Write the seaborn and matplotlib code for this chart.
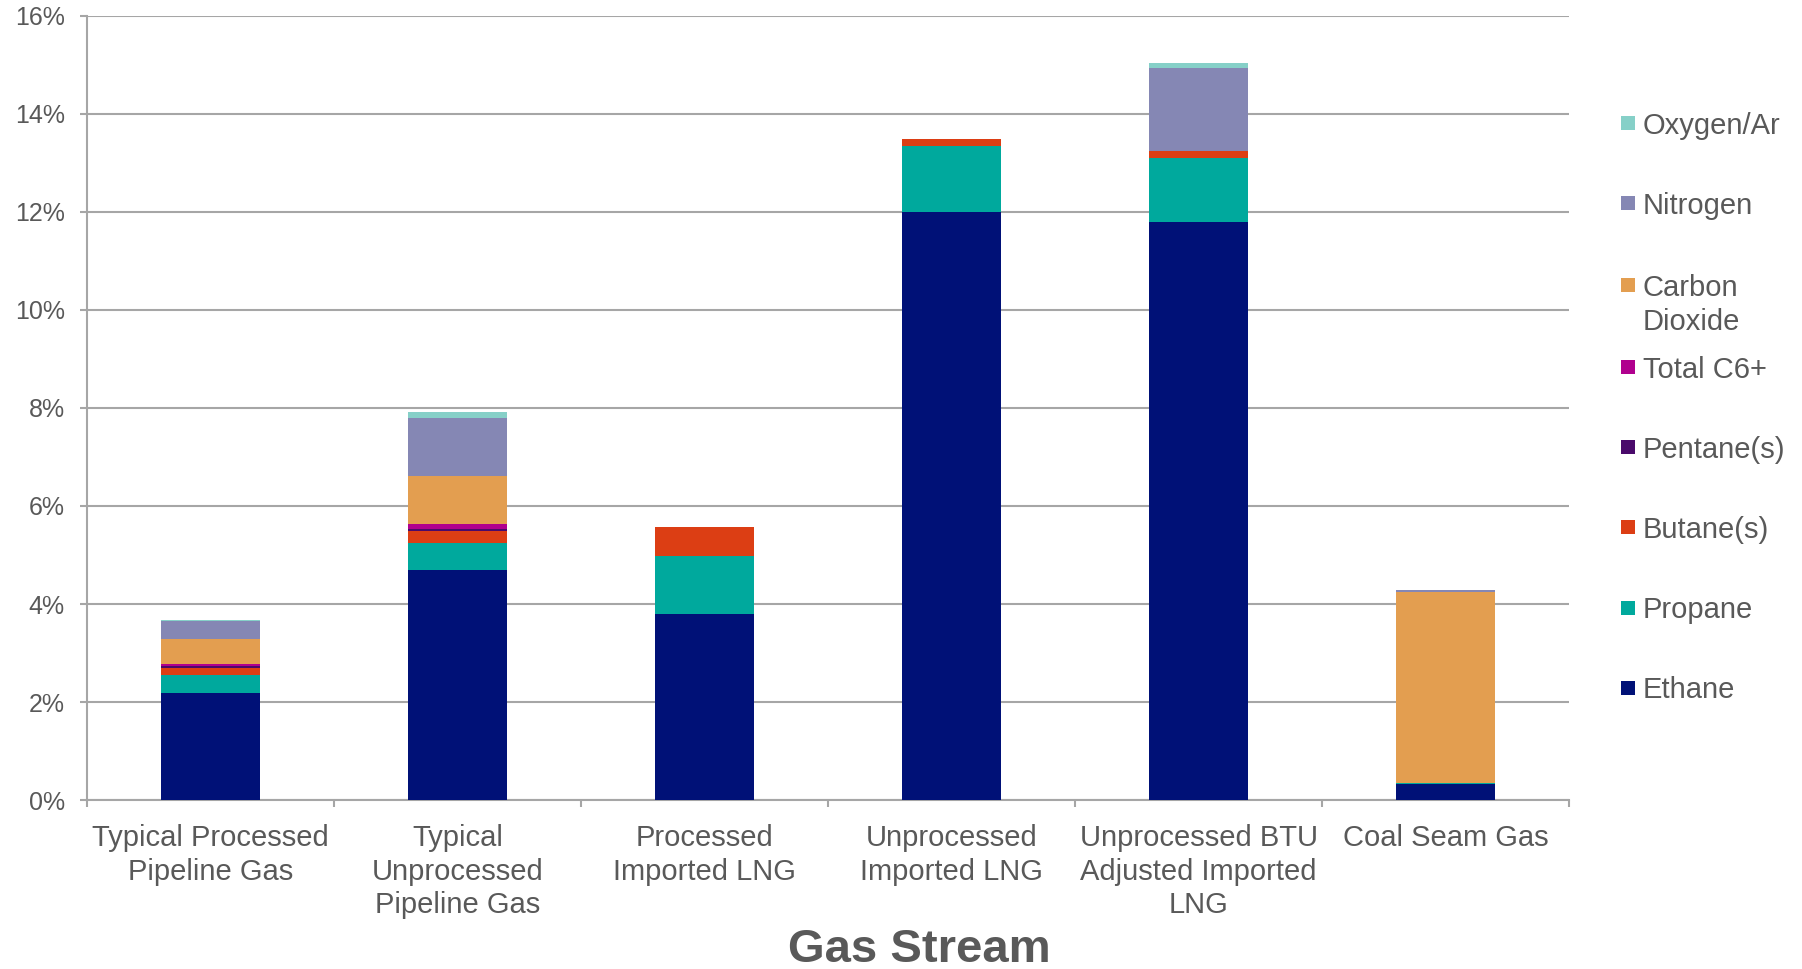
import numpy as np
import pandas as pd
import matplotlib
matplotlib.use("Agg")
import matplotlib.pyplot as plt
from matplotlib.patches import Rectangle
from matplotlib.ticker import FuncFormatter
import seaborn as sns

# Gas streams (x categories)
streams = [
    "Typical Processed\nPipeline Gas",
    "Typical\nUnprocessed\nPipeline Gas",
    "Processed\nImported LNG",
    "Unprocessed\nImported LNG",
    "Unprocessed BTU\nAdjusted Imported\nLNG",
    "Coal Seam Gas",
]

# Component shares (% by volume), bottom of stack first
ethane = [2.19, 4.69, 3.80, 12.00, 11.80, 0.32]
propane = [0.36, 0.55, 1.17, 1.34, 1.31, 0.02]
butanes = [0.14, 0.24, 0.60, 0.14, 0.13, 0.01]
pentanes = [0.04, 0.06, 0.00, 0.00, 0.00, 0.00]
c6_plus = [0.04, 0.09, 0.00, 0.00, 0.00, 0.00]
carbon_dioxide = [0.51, 0.99, 0.00, 0.00, 0.00, 3.90]
nitrogen = [0.37, 1.18, 0.00, 0.00, 1.70, 0.03]
oxygen_ar = [0.02, 0.11, 0.00, 0.00, 0.11, 0.00]

components = ["Ethane", "Propane", "Butane(s)", "Pentane(s)", "Total C6+",
              "Carbon\nDioxide", "Nitrogen", "Oxygen/Ar"]
series = [ethane, propane, butanes, pentanes, c6_plus,
          carbon_dioxide, nitrogen, oxygen_ar]
colors = ["#001177", "#00A99D", "#DC3E14", "#4A0A6B", "#B0008E",
          "#E39E50", "#8587B4", "#86D0C8"]

yticks = [0, 2, 4, 6, 8, 10, 12, 14, 16]

sns.set_theme(style="white")
plt.rcParams["font.family"] = ["Liberation Sans", "DejaVu Sans"]
text_color = "#595959"
grid_color = "#A6A6A6"

fig = plt.figure(figsize=(18.02, 9.69), dpi=100)
ax = fig.add_axes([0.0483, 0.1744, 0.8224, 0.8091])

# Stacked bars: draw cumulative totals from the top component down
cum = np.cumsum(np.array(series), axis=0)
for i in range(len(series) - 1, -1, -1):
    df = pd.DataFrame({"stream": streams, "value": cum[i]})
    sns.barplot(data=df, x="stream", y="value", order=streams, color=colors[i],
                saturation=1, width=0.4, ax=ax, zorder=3, linewidth=0)

ax.set_xlim(-0.5, len(streams) - 0.5)
ax.set_ylim(yticks[0], yticks[-1])
ax.set_yticks(yticks)
ax.yaxis.set_major_formatter(FuncFormatter(lambda v, p: f"{v:.0f}%"))
ax.set_xlabel("")
ax.set_ylabel("")

ax.grid(axis="y", color=grid_color, linewidth=1.5, zorder=0)
ax.grid(axis="x", visible=False)
ax.set_axisbelow(True)
for side in ["top", "right"]:
    ax.spines[side].set_visible(False)
for side in ["left", "bottom"]:
    ax.spines[side].set_color(grid_color)
    ax.spines[side].set_linewidth(1.5)

ax.set_xticks(np.arange(-0.5, len(streams), 1), minor=True)
ax.tick_params(axis="x", which="major", length=0, pad=17, labelsize=21,
               labelcolor=text_color)
ax.tick_params(axis="x", which="minor", length=5, width=1.5, color=grid_color,
               direction="out", bottom=True)
ax.tick_params(axis="y", which="major", length=5, width=1.5, color=grid_color,
               direction="out", left=True, pad=11, labelsize=18,
               labelcolor=text_color)
for lab in ax.get_xticklabels():
    lab.set_linespacing(1.27)

# Axis title
fig.text(0.51, 1 - 962 / 969, "Gas Stream", ha="center", va="baseline",
         fontsize=34, fontweight="bold", color=text_color)

# Legend, top entry = last stacked component
W, H = 1802.0, 969.0
legend_centers = [123, 203, 285, 367, 447, 527, 608, 688]
line_h = 34.5
sq = 14
for k, idx in enumerate(range(len(series) - 1, -1, -1)):
    yc = legend_centers[k]
    fig.add_artist(Rectangle((1621 / W, 1 - (yc + sq / 2) / H), sq / W, sq / H,
                             transform=fig.transFigure, facecolor=colors[idx],
                             edgecolor="none"))
    n_lines = components[idx].count("\n") + 1
    # baseline refers to the last line of a multi-line label
    base = yc + 10.5 + (n_lines - 1) * line_h
    fig.text(1643 / W, 1 - base / H, components[idx], ha="left",
             va="baseline", fontsize=21, color=text_color, linespacing=1.27)

fig.savefig("out.png", dpi=100)
